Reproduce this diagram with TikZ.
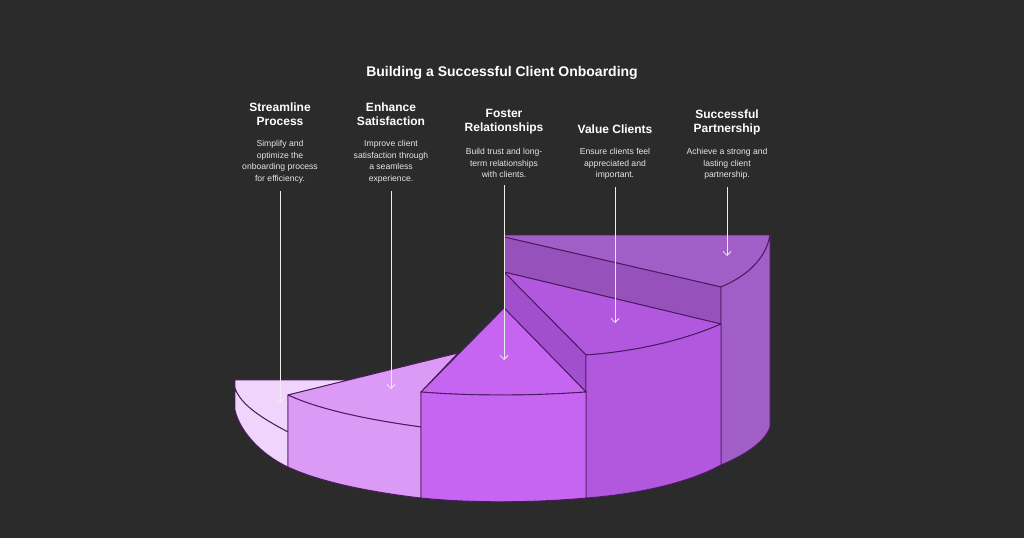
\documentclass[tikz,border=0pt]{standalone}
\usepackage{fontspec}
\setmainfont{Liberation Sans}
\usetikzlibrary{arrows.meta}
\definecolor{bg}{HTML}{2B2B2B}
\definecolor{edge}{HTML}{4A1A5E}
\definecolor{sa}{HTML}{F1D4FB}
\definecolor{sb}{HTML}{DB9AF6}
\definecolor{sc}{HTML}{C565F2}
\definecolor{sd}{HTML}{B158DF}
\definecolor{sdr}{HTML}{A24FCE}
\definecolor{se}{HTML}{A05EC6}
\definecolor{ser}{HTML}{9652BA}
\definecolor{txt}{HTML}{E6E6E6}
\begin{document}
\begin{tikzpicture}[x=1pt,y=-1pt,
  face/.style={draw=edge,line width=0.9pt,line join=round},
  head/.style={text=white,font=\bfseries\fontsize{12}{14}\selectfont,align=center},
  desc/.style={text=txt,font=\fontsize{8.6}{11.5}\selectfont,align=center},
  arr/.style={draw=white!85!gray,line width=0.8pt,-{Straight Barb[length=4pt,width=8pt]}}]
\fill[bg] (0,0) rectangle (1024,538);
\useasboundingbox (0,0) rectangle (1024,538);
% step 5 (back)
\path[face,fill=se] (504,235) -- (770,235) .. controls (766,260) and (745,277) .. (721,287) -- (504,237) -- cycle;
\path[face,fill=ser] (504,237) -- (721,287) -- (721,324) -- (504,272) -- cycle;
\path[face,fill=se] (770,235) .. controls (766,260) and (745,277) .. (721,287) -- (721,465) .. controls (745,455) and (765,442) .. (770,427) -- cycle;
% step 4
\path[face,fill=sd] (504,272) -- (721,324) .. controls (680,342) and (630,352) .. (586,355) -- cycle;
\path[face,fill=sdr] (504,272) -- (586,355) -- (586,392) -- (504,308) -- cycle;
\path[face,fill=sd] (721,324) .. controls (680,342) and (630,352) .. (586,355) -- (586,498) .. controls (640,494) and (690,482) .. (721,465) -- cycle;
% step 2 and 1 (behind step 3)
\path[face,fill=sa] (235,380) -- (349,380) -- (288,395) -- (288,432) .. controls (265,420) and (240,405) .. (235,388) -- cycle;
\path[face,fill=sa] (235,388) .. controls (240,405) and (265,420) .. (288,432) -- (288,467) .. controls (262,455) and (240,432) .. (235,410) -- cycle;
\path[face,fill=sb] (288,395) -- (458,353) -- (421,392) -- (421,427) .. controls (370,420) and (320,410) .. (288,395) -- cycle;
\path[face,fill=sb] (288,395) .. controls (320,410) and (370,420) .. (421,427) -- (421,498) .. controls (370,492) and (320,482) .. (288,467) -- cycle;
% step 3
\path[face,fill=sc] (504,308) -- (586,392) .. controls (530,396) and (470,396) .. (421,392) -- cycle;
\path[face,fill=sc] (421,392) .. controls (470,396) and (530,396) .. (586,392) -- (586,498) .. controls (530,503) and (470,503) .. (421,498) -- cycle;
% title
\node[head,font=\bfseries\fontsize{14}{16}\selectfont] (title) at (502,73) {Building a Successful Client Onboarding};
% labels
\node[head] (h1) at (280,114) {Streamline\\Process};
\node[desc,anchor=north] (d1) at (280,137) {Simplify and\\optimize the\\onboarding process\\for efficiency.};
\node[head] (h2) at (391,114) {Enhance\\Satisfaction};
\node[desc,anchor=north] (d2) at (391,137) {Improve client\\satisfaction through\\a seamless\\experience.};
\node[head] (h3) at (504,122) {Foster\\Relationships};
\node[desc,anchor=north] (d3) at (504,145) {Build trust and long-\\term relationships\\with clients.};
\node[head] (h4) at (615,129) {Value Clients};
\node[desc,anchor=north] (d4) at (615,145) {Ensure clients feel\\appreciated and\\important.};
\node[head] (h5) at (727,122) {Successful\\Partnership};
\node[desc,anchor=north] (d5) at (727,145) {Achieve a strong and\\lasting client\\partnership.};
\coordinate (t1) at (280,403);
\coordinate (t2) at (391,389);
\coordinate (t3) at (504,360);
\coordinate (t4) at (615,323);
\coordinate (t5) at (727,256);
\draw[arr] (d1.south) ++(0,4) -- (t1);
\draw[arr] (d2.south) ++(0,4) -- (t2);
\draw[arr] (d3.south) ++(0,4) -- (t3);
\draw[arr] (d4.south) ++(0,4) -- (t4);
\draw[arr] (d5.south) ++(0,4) -- (t5);
\end{tikzpicture}
\end{document}
